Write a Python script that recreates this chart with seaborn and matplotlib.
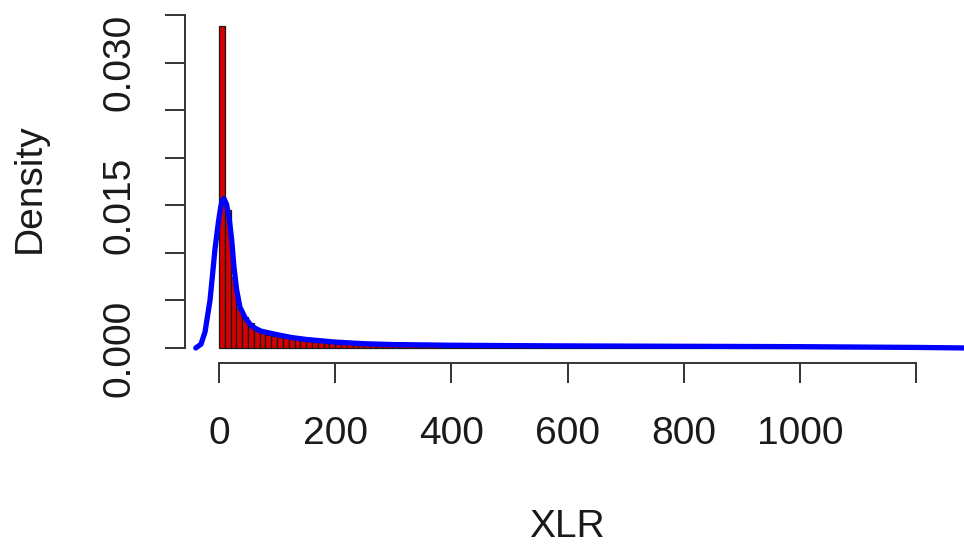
import numpy as np
import pandas as pd
import matplotlib
matplotlib.use("Agg")
import matplotlib.pyplot as plt
import seaborn as sns

# ---- datos -----------------------------------------------------------------
ancho_bin = 10
bin_inicio = 0
alturas_bins = [
    0.0338, 0.0145, 0.0075, 0.0042, 0.0033, 0.0026, 0.0021, 0.00175, 0.0014,
    0.0013, 0.0012, 0.0011, 0.00098, 0.0009, 0.00082, 0.00075, 0.00068, 0.00062, 0.00056,
    0.0005, 0.00046, 0.00042, 0.00038, 0.00035, 0.00032, 0.0003, 0.00028, 0.00026, 0.00024,
    0.00022, 0.00021, 0.0002, 0.00019, 0.00018, 0.00018, 0.00017, 0.00016, 0.00016, 0.00015,
    0.00015, 0.00014, 0.00014, 0.00013, 0.00013, 0.00013, 0.00012, 0.00012, 0.00012, 0.00011,
    0.00011, 0.00011, 0.0001, 0.0001, 0.0001, 0.0001, 0.00009, 0.00009, 0.00009, 0.00009,
    0.00009, 0.00008, 0.00008, 0.00008, 0.00008, 0.00008, 0.00008, 0.00008, 0.00007, 0.00007,
    0.00007, 0.00007, 0.00007, 0.00007, 0.00007, 0.00007, 0.00006, 0.00006, 0.00006, 0.00006,
    0.00006, 0.00006, 0.00006, 0.00006, 0.00006, 0.00005, 0.00005, 0.00005, 0.00005, 0.00005,
    0.00005, 0.00005, 0.00005, 0.00005, 0.00005, 0.00004, 0.00004, 0.00004, 0.00004, 0.00004,
    0.00004, 0.00004, 0.00004, 0.00004, 0.00004, 0.00003, 0.00003, 0.00003, 0.00003, 0.00003,
    0.00003, 0.00003, 0.00003, 0.00003, 0.00003, 0.00002, 0.00002, 0.00002, 0.00002, 0.00002,
    0.00002, 0.00002,
]

densidad_x = [-40, -31, -24, -15.5, -10.8, -6.9, -1.1, 2.9, 5.5, 8.5, 13, 17.8, 21.8,
              25.8, 30.4, 36, 44.7, 56, 70.6, 85, 100, 125, 150, 200, 250, 300,
              400, 500, 600, 700, 800, 900, 1000, 1100, 1200, 1290]
densidad_y = [0.0, 0.0004, 0.0017, 0.0050, 0.0079, 0.0104, 0.0132, 0.0148, 0.0155, 0.0157,
              0.0151, 0.0135, 0.0114, 0.0085, 0.0061, 0.0043, 0.0032, 0.0023, 0.0018,
              0.0016, 0.0014, 0.0011, 0.0009, 0.00062, 0.00045, 0.00036, 0.00029,
              0.00025, 0.00022, 0.0002, 0.00018, 0.00016, 0.00014, 0.0001, 0.00006, 0.0]

ticks_x = [0, 200, 400, 600, 800, 1000, 1200]
etiquetas_x = ["0", "200", "400", "600", "800", "1000", ""]
ticks_y = [0.0, 0.005, 0.010, 0.015, 0.020, 0.025, 0.030, 0.035]
etiquetas_y = ["0.000", "", "", "0.015", "", "", "0.030", ""]

# ---- figura -----------------------------------------------------------------
sns.set_style("white")
plt.rcParams["font.family"] = ["Liberation Sans", "DejaVu Sans"]

W, H = 964, 548
fig = plt.figure(figsize=(W / 100, H / 100), dpi=100)
ax = fig.add_axes([185 / W, 1 - 363 / H, 1 - 185 / W, (363 - 14) / H])

n_bins = len(alturas_bins)
centros = bin_inicio + ancho_bin * (np.arange(n_bins) + 0.5)
hist = pd.DataFrame({"centro": centros, "peso": alturas_bins})
sns.histplot(data=hist, x="centro", weights="peso", binwidth=ancho_bin,
             binrange=(bin_inicio, bin_inicio + ancho_bin * n_bins), stat="count",
             color="#d40000", alpha=1, edgecolor="#1a1a1a", linewidth=0.9, ax=ax)

dens = pd.DataFrame({"x": densidad_x, "y": densidad_y})
sns.lineplot(data=dens, x="x", y="y", color="#0000ff", linewidth=3.8,
             sort=False, ax=ax)

ax.set_xlim(-58.5, 1282)
ax.set_ylim(-0.001577, 0.0351)

color_txt = "#1a1a1a"
ax.set_xticks(ticks_x, etiquetas_x)
ax.set_yticks(ticks_y, etiquetas_y)
ax.tick_params(axis="both", direction="out", length=14.5, width=1.4,
               color="#333333", labelsize=28, labelcolor=color_txt, pad=20,
               bottom=True, left=True)
ax.tick_params(axis="x", pad=24)
ax.tick_params(axis="y", labelrotation=90)
for t in ax.get_yticklabels():
    t.set_verticalalignment("center")

for lado in ["top", "right"]:
    ax.spines[lado].set_visible(False)
ax.spines["bottom"].set_bounds(0, 1200)
ax.spines["left"].set_bounds(0, 0.035)
for lado in ["bottom", "left"]:
    ax.spines[lado].set_color("#333333")
    ax.spines[lado].set_linewidth(1.4)

ax.set_xlabel("XLR", fontsize=28, color=color_txt)
ax.xaxis.set_label_coords((567 - 185) / (W - 185), (H - 527 - 185) / 349)
ax.xaxis.label.set_verticalalignment("center")
ax.set_ylabel("Density", fontsize=28, color=color_txt)
ax.yaxis.set_label_coords((30 - 185) / (W - 185), (H - 188 - 185) / 349)
ax.yaxis.label.set_verticalalignment("center")

fig.savefig("out.png", dpi=100)
